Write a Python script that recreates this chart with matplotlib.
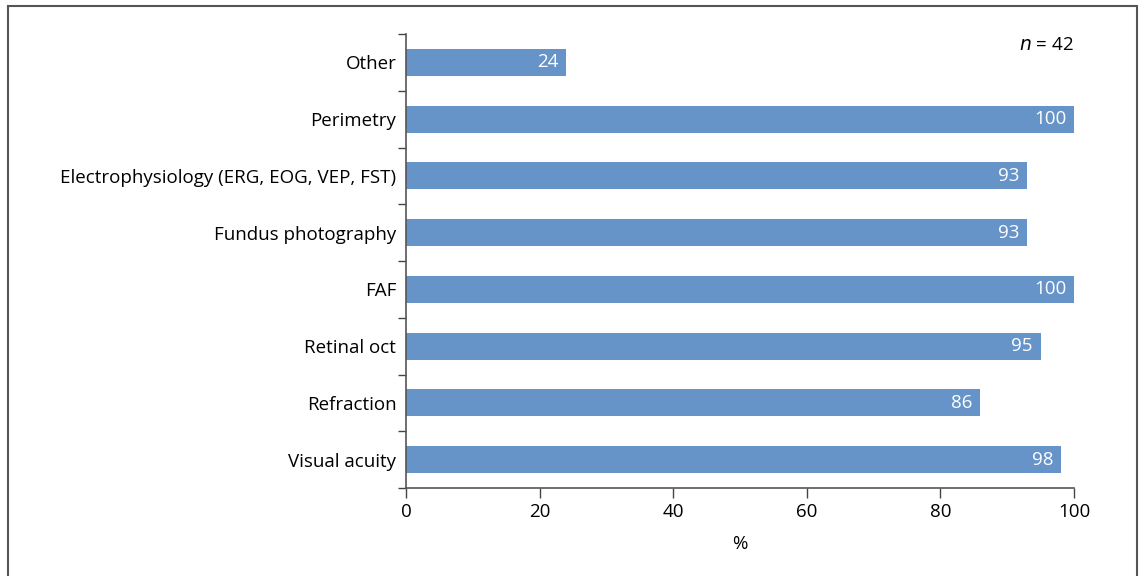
import matplotlib
matplotlib.use("Agg")
import matplotlib.pyplot as plt
from matplotlib.patches import Rectangle
import numpy as np

plt.rcParams['font.family'] = ['Open Sans', 'DejaVu Sans']

categories = ["Visual acuity", "Refraction", "Retinal oct", "FAF", "Fundus photography",
              "Electrophysiology (ERG, EOG, VEP, FST)", "Perimetry", "Other"]
values = [98, 86, 95, 100, 93, 93, 100, 24]
xticks = [0, 20, 40, 60, 80, 100]

FS = 13.5
fig = plt.figure(figsize=(11.43, 5.76), dpi=100)
ax = fig.add_axes([406/1143, 1-488/576, (1074-406)/1143, (488-34)/576])

y = np.arange(len(categories))
bars = ax.barh(y, values, height=0.48, color="#6794C8")
for yi, v in zip(y, values):
    ax.annotate(str(v), (v, yi), xytext=(-5.5, 0), textcoords="offset points",
                ha="right", va="center", color="white", fontsize=FS)

ax.set_xlim(0, 100)
ax.set_ylim(-0.5, len(categories) - 0.5)
ax.set_xticks(xticks)
ax.set_xticklabels([str(t) for t in xticks], fontsize=FS)
ax.set_yticks(y)
ax.set_yticklabels(categories, fontsize=FS)
ax.tick_params(axis='y', length=0, pad=7)
ax.set_yticks(np.arange(len(categories) + 1) - 0.5, minor=True)
ax.tick_params(axis='y', which='minor', length=6, width=1, color="#444444")
ax.tick_params(axis='x', length=7, width=1, color="#444444", pad=4)
ax.set_xlabel("%", fontsize=FS, labelpad=10)
for s in ["top", "right"]:
    ax.spines[s].set_visible(False)
for s in ["left", "bottom"]:
    ax.spines[s].set_color("#555555")
    ax.spines[s].set_linewidth(1.2)

ax.text(1.0, 0.975, r"$\it{n}$ = 42", transform=ax.transAxes, ha="right", va="center", fontsize=FS)

fig.patches.append(Rectangle((8/1143, -0.05), (1137-8)/1143, 1 + 0.05 - 6/576,
                             transform=fig.transFigure, fill=False, edgecolor="#555555",
                             linewidth=1.5, clip_on=False))

fig.savefig("out.png", dpi=100)
